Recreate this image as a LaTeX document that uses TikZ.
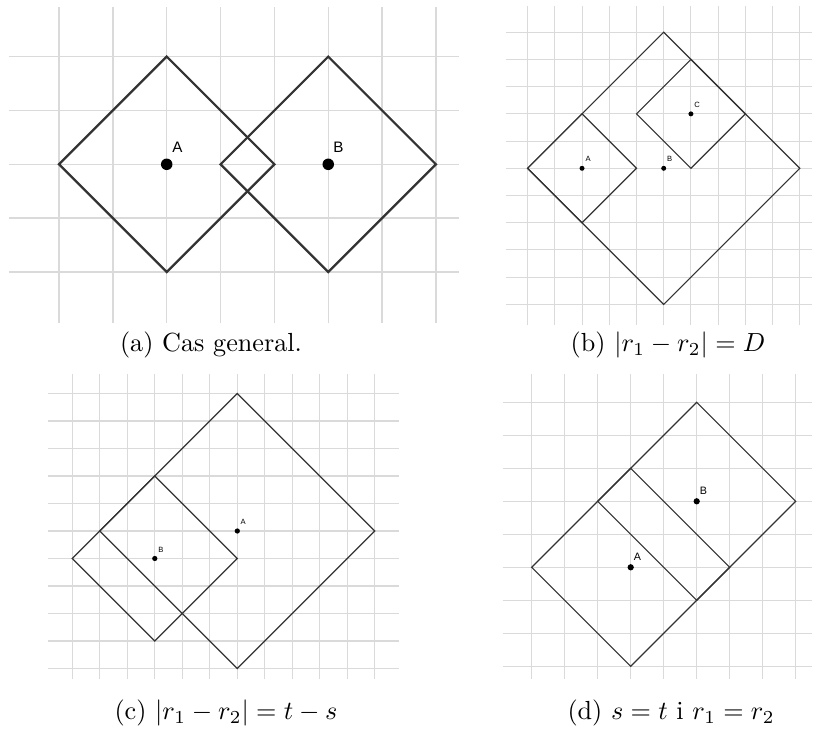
\documentclass[tikz,border=0pt]{standalone}
\usepackage{fontspec}
\newfontfamily\ggbfont{Liberation Sans}
\usetikzlibrary{positioning}
\definecolor{gridgray}{RGB}{218,218,218}
\definecolor{sqgray}{RGB}{51,51,51}
% taxicab ball of radius #4 round (#2,#3)
\newcommand{\taxiball}[4][]{%
  \draw[sq,#1] (#2-#4,#3) -- (#2,#3+#4) -- (#2+#4,#3) -- (#2,#3-#4) -- cycle;}

\begin{document}
\begin{tikzpicture}[
    x=0.382pt, y=0.382pt,
    gline/.style={draw=gridgray, line width=0.4pt},
    sq/.style={draw=sqgray, line width=0.45pt},
    dot/.style={circle, fill=black, inner sep=0pt, minimum size=2pt},
    plbl/.style={inner sep=0pt, font=\ggbfont\fontsize{2.9}{3}\selectfont},
    captxt/.style={inner sep=0pt, font=\normalsize}
]
\useasboundingbox (0,0) rectangle (813,739);

% (a) cas general
\begin{scope}[shift={(166.7,574.7)}, scale=53.85]
  \foreach \i in {-2,...,5} \draw[gline, line width=0.5pt] (\i,-2.95) -- (\i,2.93);
  \foreach \j in {-2,...,2} \draw[gline, line width=0.5pt] (-2.93,\j) -- (5.43,\j);
  \taxiball[line width=0.85pt]{0}{0}{2}
  \taxiball[line width=0.85pt]{3}{0}{2}
  \node[dot, minimum size=4.4pt] (aA) at (0,0) {};
  \node[dot, minimum size=4.4pt] (aB) at (3,0) {};
  \node[plbl, font=\ggbfont\fontsize{5.8}{6}\selectfont, above right=2.5pt and 0.3pt of aA] (laA) {A};
  \node[plbl, font=\ggbfont\fontsize{5.8}{6}\selectfont, above right=2.5pt and 0.3pt of aB] (laB) {B};
\end{scope}

% (b) |r1-r2| = D
\begin{scope}[shift={(663.7,570.7)}, scale=27.22]
  \foreach \i in {-5,...,5} \draw[gline] (\i,-5.76) -- (\i,5.96);
  \foreach \j in {-5,...,5} \draw[gline] (-5.79,\j) -- (5.44,\j);
  \taxiball{0}{0}{5}
  \taxiball{-3}{0}{2}
  \taxiball{1}{2}{2}
  \node[dot, minimum size=1.9pt] (bA) at (-3,0) {};
  \node[dot, minimum size=1.9pt] (bB) at (0,0) {};
  \node[dot, minimum size=1.9pt] (bC) at (1,2) {};
  \node[plbl, above right=1.4pt and 0.3pt of bA] (lbA) {A};
  \node[plbl, above right=1.4pt and 0.3pt of bB] (lbB) {B};
  \node[plbl, above right=1.4pt and 0.3pt of bC] (lbC) {C};
\end{scope}

% (c) |r1-r2| = t-s
\begin{scope}[shift={(237.3,208)}, scale=27.5]
  \foreach \i in {-6,...,5} \draw[gline] (\i,-5.39) -- (\i,5.71);
  \foreach \j in {-5,...,5} \draw[gline] (-6.87,\j) -- (5.89,\j);
  \taxiball{0}{0}{5}
  \taxiball{-3}{-1}{3}
  \node[dot, minimum size=2pt] (cA) at (0,0) {};
  \node[dot, minimum size=2pt] (cB) at (-3,-1) {};
  \node[plbl, above right=1.3pt and 0.25pt of cA] (lcA) {A};
  \node[plbl, above right=1.3pt and 0.25pt of cB] (lcB) {B};
\end{scope}

% (d) s = t i r1 = r2
\begin{scope}[shift={(630.7,171.7)}, scale=33]
  \foreach \i in {-3,...,5} \draw[gline] (\i,-3.38) -- (\i,5.86);
  \foreach \j in {-3,...,5} \draw[gline] (-3.88,\j) -- (5.48,\j);
  \taxiball{0}{0}{3}
  \taxiball{2}{2}{3}
  \node[dot, minimum size=2.4pt] (dA) at (0,0) {};
  \node[dot, minimum size=2.4pt] (dB) at (2,2) {};
  \node[plbl, font=\ggbfont\fontsize{4.1}{5}\selectfont, above right=1.3pt and 0pt of dA] (ldA) {A};
  \node[plbl, font=\ggbfont\fontsize{4.1}{5}\selectfont, above right=1.3pt and 0pt of dB] (ldB) {B};
\end{scope}

% captions
\node[captxt] (capa) at (211,394) {(a) Cas general.};
\node[captxt] (capb) at (668,394) {(b) $|r_1-r_2|=D$};
\node[captxt] (capc) at (226,26) {(c) $|r_1-r_2|=t-s$};
\node[captxt] (capd) at (671,26) {(d) $s=t$ i $r_1=r_2$};

\end{tikzpicture}
\end{document}
